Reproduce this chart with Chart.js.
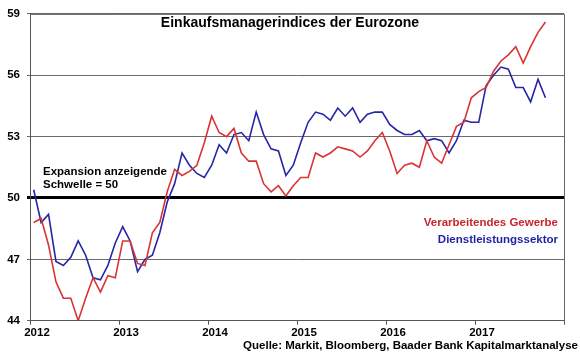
<!DOCTYPE html>
<html><head><meta charset="utf-8">
<script src="https://cdn.jsdelivr.net/npm/chart.js@4"></script>
<style>html,body{margin:0;padding:0;background:#fff}</style>
</head><body>
<canvas id="c" width="580" height="358"></canvas>
<script>
const startYear = 2012;
const yearLabels = ['2012','2013','2014','2015','2016','2017'];
const yTickValues = [44,47,50,53,56,59];
const threshold = 50;
// Verarbeitendes Gewerbe (manufacturing PMI), monthly Jan 2012 - Oct 2017
const manufacturing = [
  48.8,49.0,47.7,45.9,45.1,45.1,44.0,45.1,46.1,45.4,46.2,46.1,
  47.9,47.9,46.8,46.7,48.3,48.8,50.3,51.4,51.1,51.3,51.6,52.7,
  54.0,53.2,53.0,53.4,52.2,51.8,51.8,50.7,50.3,50.6,50.1,50.6,
  51.0,51.0,52.2,52.0,52.2,52.5,52.4,52.3,52.0,52.3,52.8,53.2,
  52.3,51.2,51.6,51.7,51.5,52.8,52.0,51.7,52.6,53.5,53.7,54.9,
  55.2,55.4,56.2,56.7,57.0,57.4,56.6,57.4,58.1,58.6
];
// Dienstleistungssektor (services PMI)
const services = [
  50.4,48.8,49.2,46.9,46.7,47.1,47.9,47.2,46.1,46.0,46.7,47.8,
  48.6,47.9,46.4,47.0,47.2,48.3,49.8,50.7,52.2,51.6,51.2,51.0,
  51.6,52.6,52.2,53.1,53.2,52.8,54.2,53.1,52.4,52.3,51.1,51.6,
  52.7,53.7,54.2,54.1,53.8,54.4,54.0,54.4,53.7,54.1,54.2,54.2,
  53.6,53.3,53.1,53.1,53.3,52.8,52.9,52.8,52.2,52.8,53.8,53.7,
  53.7,55.5,56.0,56.4,56.3,55.4,55.4,54.7,55.8,54.9
];
const seriesNames = ['Verarbeitendes Gewerbe','Dienstleistungssektor'];
const titleText = 'Einkaufsmanagerindices der Eurozone';
const noteLines = ['Expansion anzeigende','Schwelle = 50'];
const sourceText = 'Quelle: Markit, Bloomberg, Baader Bank Kapitalmarktanalyse';

const RED = '#d93434', BLUE = '#2626a6';
const FONT = '"Liberation Sans", Arial, sans-serif';

const toPoints = arr => arr.map((v,i)=>({x:i+0.5,y:v}));

const decor = {
  id:'decor',
  afterDraw(chart){
    const {ctx, chartArea:a} = chart;
    ctx.save();
    ctx.strokeStyle = '#666'; ctx.lineWidth = 1;
    ctx.beginPath();
    ctx.moveTo(a.left, a.top+0.5); ctx.lineTo(a.right+0.5, a.top+0.5);
    ctx.lineTo(a.right+0.5, a.bottom);
    ctx.stroke();
    ctx.textBaseline = 'middle';
    ctx.fillStyle = '#000';
    ctx.font = 'bold 14px ' + FONT;
    ctx.textAlign = 'center';
    ctx.fillText(titleText, 290, 23);
    ctx.font = 'bold 11.5px ' + FONT;
    ctx.textAlign = 'left';
    ctx.fillText(noteLines[0], 43, 172);
    ctx.fillText(noteLines[1], 43, 185);
    ctx.textAlign = 'right';
    ctx.fillStyle = '#c8262b';
    ctx.fillText(seriesNames[0], 558, 223);
    ctx.fillStyle = '#1f1fa3';
    ctx.fillText(seriesNames[1], 558, 240);
    ctx.fillStyle = '#000';
    ctx.fillText(sourceText, 578, 346);
    ctx.restore();
  }
};

new Chart(document.getElementById('c'), {
  type:'line',
  data:{datasets:[
    {label:seriesNames[0], data:toPoints(manufacturing), borderColor:RED, borderWidth:1.6, pointRadius:0, tension:0},
    {label:seriesNames[1], data:toPoints(services), borderColor:BLUE, borderWidth:1.6, pointRadius:0, tension:0}
  ]},
  options:{
    responsive:false, animation:false, devicePixelRatio:1,
    layout:{padding:{top:9.5,right:16,left:0,bottom:0}},
    plugins:{legend:{display:false},tooltip:{enabled:false},title:{display:false}},
    scales:{
      x:{type:'linear', min:0, max:yearLabels.length*12,
        afterFit(s){s.height = 37.3;},
        border:{color:'#555', width:1},
        grid:{drawOnChartArea:false, drawTicks:true, tickLength:4, color:'#555'},
        ticks:{stepSize:12, autoSkip:false, maxRotation:0, labelOffset:7, padding:1,
          color:'#000', font:{family:FONT, size:11.5, weight:'bold'},
          callback:v=>{const k=Math.round(v/12); return yearLabels[k]!==undefined ? yearLabels[k] : '';}}
      },
      y:{min:44, max:59,
        afterFit(s){s.width = 30;},
        afterBuildTicks(s){s.ticks = yTickValues.map(v=>({value:v}));},
        border:{color:'#555', width:1},
        grid:{color:c=>c.tick && c.tick.value===threshold ? '#000' : '#6a6a6a',
              lineWidth:c=>c.tick && c.tick.value===threshold ? 3 : 1,
              tickLength:3},
        ticks:{padding:7, color:'#000', font:{family:FONT, size:11.5, weight:'bold'}}
      }
    }
  },
  plugins:[decor]
});
</script>
</body></html>
